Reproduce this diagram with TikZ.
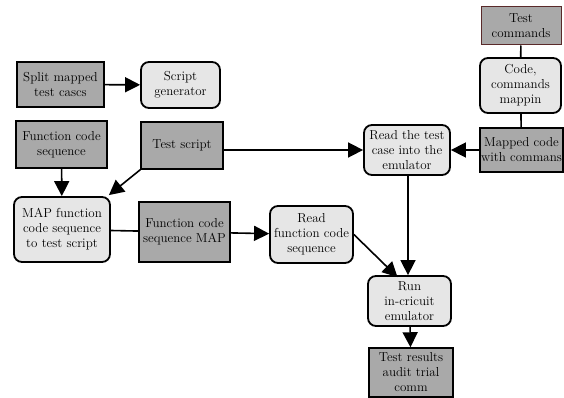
\documentclass[tikz,border=0pt]{standalone}
\usetikzlibrary{arrows.meta}
\definecolor{darkfill}{HTML}{A9A9A9}
\definecolor{lightfill}{HTML}{E6E6E6}
\definecolor{brownedge}{HTML}{5A2A2A}
\begin{document}
\begin{tikzpicture}[x=1pt,y=-1pt,
  every node/.style={font=\rmfamily\fontsize{13}{15}\selectfont, align=center, inner sep=1pt},
  databox/.style={draw=black, line width=1.5pt, fill=darkfill},
  procbox/.style={draw=black, line width=1.8pt, fill=lightfill, rounded corners=8pt},
  link/.style={line width=1.6pt},
  flow/.style={line width=1.6pt, -{Triangle[length=15pt,width=15pt]}}]
\useasboundingbox (0,0) rectangle (564,398);

% data items (grey rectangles)
\node[databox, minimum width=87pt, minimum height=45pt] (split) at (60.5,84.5) {Split mapped\\test cascs};
\node[databox, minimum width=91pt, minimum height=47pt] (fcs) at (61.5,144.5) {Function code\\sequence};
\node[databox, minimum width=82pt, minimum height=47pt] (tscript) at (182,145.5) {Test script};
\node[databox, draw=brownedge, line width=1pt, minimum width=80pt, minimum height=38pt] (tcmd) at (521,26) {Test\\commands};
\node[databox, minimum width=81pt, minimum height=44pt] (mapped) at (521.5,150) {Mapped code\\with commans};
\node[databox, minimum width=91pt, minimum height=60pt] (fcsmap) at (184.5,232) {Function code\\sequence MAP};
\node[databox, minimum width=84pt, minimum height=49pt] (results) at (411,372.5) {Test results\\audit trial\\comm};

% processing steps (rounded boxes)
\node[procbox, minimum width=79pt, minimum height=46pt] (sgen) at (180.5,85) {Script\\generator};
\node[procbox, minimum width=86pt, minimum height=50pt] (readtc) at (407,150) {Read the test\\case into the\\emulator};
\node[procbox, minimum width=81pt, minimum height=55pt] (cmap) at (520.5,85.5) {Code,\\commands\\mappin};
\node[procbox, minimum width=96pt, minimum height=65pt] (mapfn) at (62,229.5) {MAP function\\code sequence\\to test script};
\node[procbox, minimum width=83pt, minimum height=57pt] (readfcs) at (311.5,234.5) {Read\\function code\\sequence};
\node[procbox, minimum width=83pt, minimum height=50pt] (run) at (409.5,301) {Run\\in-cricuit\\emulator};

% connectors
\draw[flow] (split) -- (sgen);
\draw[link] (tcmd) -- (cmap);
\draw[link] (cmap) -- (mapped);
\draw[flow] (mapped) -- (readtc);
\draw[flow] (tscript.east |- readtc) -- (readtc.west);
\draw[flow] ([xshift=1pt]readtc.south) -- ([xshift=1pt]readtc.south |- run.north);
\draw[flow] (fcs) -- (mapfn);
\draw[flow] (tscript.south west) -- ([xshift=-2pt,yshift=1pt]mapfn.north east);
\draw[link] (mapfn) -- (fcsmap);
\draw[flow] (fcsmap) -- (readfcs);
\draw[flow] (readfcs.east) -- ([xshift=-12pt,yshift=-2pt]run.north);
\draw[flow] (run) -- (results);
\end{tikzpicture}
\end{document}
